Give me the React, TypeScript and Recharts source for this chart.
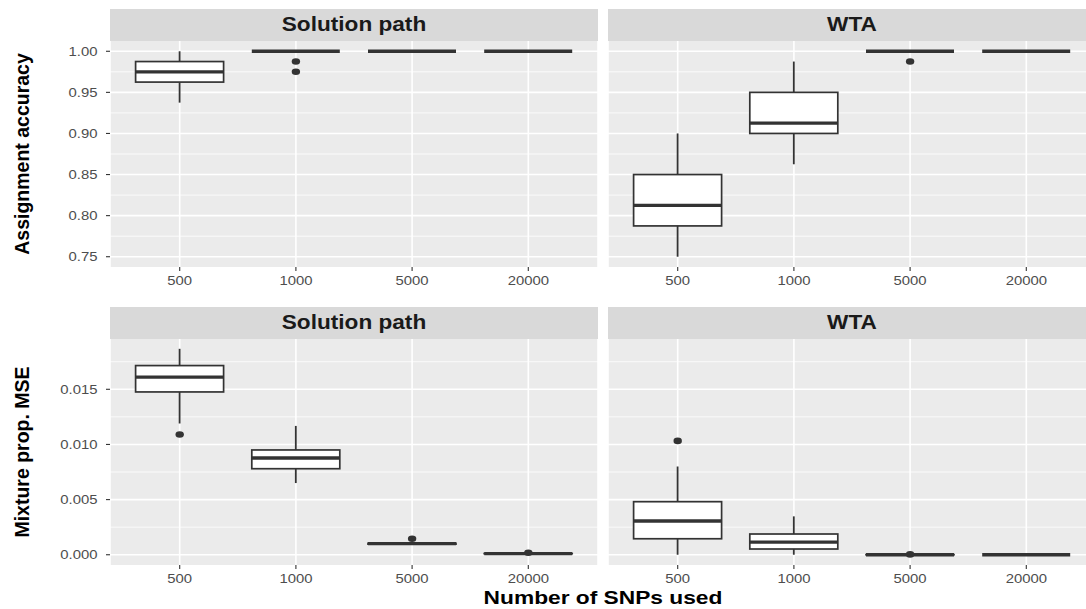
import { Bar, CartesianGrid, ComposedChart, Scatter, XAxis, YAxis } from "recharts";

const snps = ["500", "1000", "5000", "20000"];

// Assignment accuracy, solution path
const accSpLo = [0.9375, 1, 1, 1];
const accSpQ1 = [0.9625, 1, 1, 1];
const accSpMed = [0.975, 1, 1, 1];
const accSpQ3 = [0.9875, 1, 1, 1];
const accSpHi = [1, 1, 1, 1];
const accSpOut1 = [null, 0.9875, null, null];
const accSpOut2 = [null, 0.975, null, null];

// Assignment accuracy, WTA
const accWtaLo = [0.75, 0.8625, 1, 1];
const accWtaQ1 = [0.7875, 0.9, 1, 1];
const accWtaMed = [0.8125, 0.9125, 1, 1];
const accWtaQ3 = [0.85, 0.95, 1, 1];
const accWtaHi = [0.9, 0.9875, 1, 1];
const accWtaOut1 = [null, null, 0.9875, null];
const accWtaOut2 = [null, null, null, null];

// Mixture proportion MSE, solution path
const mseSpLo = [0.0119, 0.0065, 0.00093, 0.00008];
const mseSpQ1 = [0.01476, 0.0078, 0.00096, 0.0001];
const mseSpMed = [0.0161, 0.00877, 0.001, 0.0001];
const mseSpQ3 = [0.01715, 0.0095, 0.00104, 0.00011];
const mseSpHi = [0.01867, 0.01168, 0.00108, 0.00013];
const mseSpOut1 = [0.0109, null, 0.00145, 0.00018];
const mseSpOut2 = [null, null, null, null];

// Mixture proportion MSE, WTA
const mseWtaLo = [0, 0, 0, 0];
const mseWtaQ1 = [0.00145, 0.00052, 0, 0];
const mseWtaMed = [0.00306, 0.00115, 0, 0];
const mseWtaQ3 = [0.00481, 0.00188, 0.00001, 0];
const mseWtaHi = [0.008, 0.00348, 0.00002, 0];
const mseWtaOut1 = [0.01032, null, 0.00003, null];
const mseWtaOut2 = [null, null, null, null];

const accTicks = [0.75, 0.8, 0.85, 0.9, 0.95, 1.0];
const accMinor = [0.775, 0.825, 0.875, 0.925, 0.975];
const accDomain: [number, number] = [0.7375, 1.0125];

const mseTicks = [0, 0.005, 0.01, 0.015];
const mseMinor = [0.0025, 0.0075, 0.0125, 0.0175];
const mseDomain: [number, number] = [-0.00093, 0.01956];

const makeRows = (
	lo: number[],
	q1: number[],
	med: number[],
	q3: number[],
	hi: number[],
	o1: (number | null)[],
	o2: (number | null)[],
) =>
	snps.map((s, i) => ({
		snps: s,
		lo: lo[i],
		q1: q1[i],
		med: med[i],
		q3: q3[i],
		hi: hi[i],
		o1: o1[i],
		o2: o2[i],
	}));

const FONT = "'Liberation Sans', Arial, Helvetica, sans-serif";
const WIDE = 1.18;
const INK = "#333333";

const BoxShape = (props: any) => {
	const { x, y, width, height, payload } = props;
	if (!payload || !Number.isFinite(x) || !Number.isFinite(y)) return null;
	const top = Math.min(y, y + height);
	const bottom = Math.max(y, y + height);
	const { lo, q1, med, q3, hi } = payload;
	const py = (v: number) =>
		hi === lo ? top : bottom - ((v - lo) / (hi - lo)) * (bottom - top);
	const cx = x + width / 2;
	return (
		<g>
			<line x1={cx} x2={cx} y1={py(hi)} y2={py(q3)} stroke={INK} strokeWidth={1.8} />
			<line x1={cx} x2={cx} y1={py(q1)} y2={py(lo)} stroke={INK} strokeWidth={1.8} />
			<rect
				x={x}
				y={py(q3)}
				width={width}
				height={Math.max(0, py(q1) - py(q3))}
				fill="#ffffff"
				stroke={INK}
				strokeWidth={1.7}
			/>
			<line x1={x} x2={x + width} y1={py(med)} y2={py(med)} stroke={INK} strokeWidth={3.3} />
		</g>
	);
};

const outlierShape = (key: string) => (props: any) => {
	const { cx, cy, payload } = props;
	if (!payload || payload[key] == null || !Number.isFinite(cx) || !Number.isFinite(cy))
		return null;
	return <ellipse cx={cx} cy={cy} rx={4.2} ry={3.3} fill={INK} />;
};

const XTick = (props: any) => {
	const { x, y, payload } = props;
	return (
		<g transform={`translate(${x},${y + 11.5}) scale(${WIDE},1)`}>
			<text textAnchor="middle" fontFamily={FONT} fontSize={12.6} fill="#4D4D4D">
				{payload.value}
			</text>
		</g>
	);
};

const makeYTick = (digits: number) => (props: any) => {
	const { x, y, payload } = props;
	return (
		<g transform={`translate(${x},${y + 4.5}) scale(${WIDE},1)`}>
			<text textAnchor="end" fontFamily={FONT} fontSize={12.6} fill="#4D4D4D">
				{Number(payload.value).toFixed(digits)}
			</text>
		</g>
	);
};

type PanelProps = {
	rows: ReturnType<typeof makeRows>;
	domain: [number, number];
	ticks: number[];
	minor: number[];
	digits: number;
	showY: boolean;
	left: number;
	top: number;
};

const PANEL_W = 488;
const PANEL_H = 226;
const Y_W = 110;
const X_H = 30;

const Panel = ({ rows, domain, ticks, minor, digits, showY, left, top }: PanelProps) => (
	<div style={{ position: "absolute", left, top }}>
		<ComposedChart
			width={showY ? PANEL_W + Y_W : PANEL_W}
			height={PANEL_H + X_H}
			data={rows}
			margin={{ top: 0, right: 0, bottom: 0, left: 0 }}
		>
			<CartesianGrid
				fill="#EBEBEB"
				vertical={false}
				horizontalValues={minor}
				stroke="#ffffff"
				strokeWidth={0.8}
			/>
			<CartesianGrid horizontalValues={ticks} stroke="#ffffff" strokeWidth={1.6} />
			<XAxis
				dataKey="snps"
				type="category"
				height={X_H}
				padding={{ left: 11.6, right: 11.6 }}
				axisLine={false}
				tickSize={4}
				tickMargin={2}
				tickLine={{ stroke: INK, strokeWidth: 1.1 }}
				tick={<XTick />}
				interval={0}
			/>
			<YAxis
				type="number"
				domain={domain}
				ticks={ticks}
				hide={!showY}
				width={Y_W}
				axisLine={false}
				tickSize={4}
				tickMargin={8.5}
				tickLine={{ stroke: INK, strokeWidth: 1.1 }}
				tick={makeYTick(digits)}
				allowDataOverflow
			/>
			<Bar
				dataKey={(d: any) => [d.lo, d.hi]}
				barSize={88}
				shape={<BoxShape />}
				isAnimationActive={false}
			/>
			<Scatter dataKey="o1" shape={outlierShape("o1")} isAnimationActive={false} />
			<Scatter dataKey="o2" shape={outlierShape("o2")} isAnimationActive={false} />
		</ComposedChart>
	</div>
);

const StripText = ({ x, y, label }: { x: number; y: number; label: string }) => (
	<g transform={`translate(${x},${y}) scale(1.16,1)`}>
		<text textAnchor="middle" fontFamily={FONT} fontWeight="bold" fontSize={19.5} fill="#1A1A1A">
			{label}
		</text>
	</g>
);

export default function App() {
	const accSp = makeRows(accSpLo, accSpQ1, accSpMed, accSpQ3, accSpHi, accSpOut1, accSpOut2);
	const accWta = makeRows(accWtaLo, accWtaQ1, accWtaMed, accWtaQ3, accWtaHi, accWtaOut1, accWtaOut2);
	const mseSp = makeRows(mseSpLo, mseSpQ1, mseSpMed, mseSpQ3, mseSpHi, mseSpOut1, mseSpOut2);
	const mseWta = makeRows(mseWtaLo, mseWtaQ1, mseWtaMed, mseWtaQ3, mseWtaHi, mseWtaOut1, mseWtaOut2);

	return (
		<div
			style={{
				position: "absolute",
				left: 0,
				top: 0,
				width: 1086,
				height: 609,
				overflow: "hidden",
				background: "#ffffff",
			}}
		>
			<svg width={1086} height={609} style={{ position: "absolute", left: 0, top: 0 }}>
				<rect x={110} y={9} width={488} height={32} fill="#D9D9D9" />
				<rect x={608} y={9} width={488} height={32} fill="#D9D9D9" />
				<rect x={110} y={307} width={488} height={32} fill="#D9D9D9" />
				<rect x={608} y={307} width={488} height={32} fill="#D9D9D9" />
				<StripText x={354} y={31} label="Solution path" />
				<StripText x={852} y={31} label="WTA" />
				<StripText x={354} y={329} label="Solution path" />
				<StripText x={852} y={329} label="WTA" />
				<text
					transform="translate(29,154) rotate(-90)"
					textAnchor="middle"
					fontFamily={FONT}
					fontWeight="bold"
					fontSize={19.5}
					fill="#000000"
				>
					Assignment accuracy
				</text>
				<text
					transform="translate(29,452) rotate(-90)"
					textAnchor="middle"
					fontFamily={FONT}
					fontWeight="bold"
					fontSize={19.5}
					fill="#000000"
				>
					Mixture prop. MSE
				</text>
				<g transform="translate(603,604) scale(1.23,1)">
					<text textAnchor="middle" fontFamily={FONT} fontWeight="bold" fontSize={18.5} fill="#000000">
						Number of SNPs used
					</text>
				</g>
			</svg>
			<Panel rows={accSp} domain={accDomain} ticks={accTicks} minor={accMinor} digits={2} showY left={0} top={41} />
			<Panel rows={accWta} domain={accDomain} ticks={accTicks} minor={accMinor} digits={2} showY={false} left={608} top={41} />
			<Panel rows={mseSp} domain={mseDomain} ticks={mseTicks} minor={mseMinor} digits={3} showY left={0} top={339} />
			<Panel rows={mseWta} domain={mseDomain} ticks={mseTicks} minor={mseMinor} digits={3} showY={false} left={608} top={339} />
		</div>
	);
}
